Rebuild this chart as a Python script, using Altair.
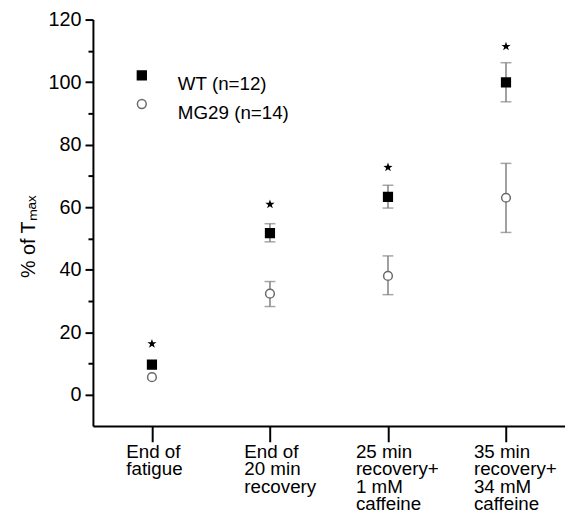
import altair as alt
import pandas as pd

categories = ["End of|fatigue", "End of|20 min|recovery",
              "25 min|recovery+|1 mM|caffeine", "35 min|recovery+|34 mM|caffeine"]
groups = ["WT (n=12)", "MG29 (n=14)"]
wt_mean = [9.6, 51.7, 63.3, 99.9]
wt_lo = [None, 48.9, 59.7, 93.7]
wt_hi = [None, 54.7, 67.0, 106.2]
mg_mean = [5.6, 32.3, 38.0, 63.0]
mg_lo = [None, 28.2, 32.0, 51.9]
mg_hi = [None, 36.2, 44.4, 74.0]
star_y = [16.3, 60.9, 72.7, 111.4]
y_ticks = [0, 10, 20, 30, 40, 50, 60, 70, 80, 90, 100, 110, 120]

STAR = ("M0,-1L0.235,-0.324L0.951,-0.309L0.380,0.124L0.588,0.809L0,0.4"
        "L-0.588,0.809L-0.380,0.124L-0.951,-0.309L-0.235,-0.324Z")

rows = []
for g, means, los, his in [(groups[0], wt_mean, wt_lo, wt_hi), (groups[1], mg_mean, mg_lo, mg_hi)]:
    for c, m, lo, hi in zip(categories, means, los, his):
        rows.append({"cat": c, "group": g, "mean": m, "lo": lo, "hi": hi})
df = pd.DataFrame(rows)
err = df.dropna(subset=["lo"])
caps = pd.concat([err.assign(cap=err["lo"]), err.assign(cap=err["hi"])])
stars = pd.DataFrame({"cat": categories, "star": star_y})

FONT = "Liberation Sans"
yscale = alt.Scale(domain=[-10, 120], nice=False, zero=False)
xenc = alt.X("cat:N", sort=categories, scale=alt.Scale(type="point", padding=0.5),
             axis=alt.Axis(title=None, labelExpr="split(datum.value, '|')", labelAlign="left",
                           labelOffset={"condition": {"test": "datum.index < 0.5", "value": -26.5},
                                        "value": -33},
                           labelBaseline="top", labelFontSize=19,
                           labelLineHeight=17.5, labelPadding=1, tickSize=16, tickWidth=2,
                           tickColor="black", domainColor="black", domainWidth=2, labelAngle=0,
                           labelColor="black", grid=False, labelFont=FONT, orient="bottom"))

leg = alt.Legend(orient="none", legendX=40, legendY=47, title=None, labelFontSize=19,
                 labelFont=FONT, labelColor="black", labelOffset=27, labelBaseline="top",
                 rowPadding=-2, symbolSize=80, padding=0, symbolStrokeWidth=1.5)

yaxis = alt.Axis(values=y_ticks, title="% of Tₘₐₓ", titleFontSize=20, titleFont=FONT,
                 titleFontWeight="normal", titleColor="black", titleY=219.5, titleX=-65,
                 titleAngle=270, titleBaseline="middle",
                 tickSize={"condition": {"test": "datum.value % 20 != 0", "value": 5}, "value": 8},
                 labelExpr="datum.value % 20 == 0 ? datum.label : ''",
                 tickWidth=2, tickColor="black", domainWidth=2,
                 domainColor="black", labelFontSize=20, labelFont=FONT,
                 labelColor="black", labelPadding=4, grid=False, orient="left")

rules = alt.Chart(err).mark_rule(color="#808080", strokeWidth=1.5).encode(
    x=xenc, y=alt.Y("lo:Q", scale=yscale, axis=yaxis), y2="hi:Q",
)
capm = alt.Chart(caps).mark_tick(orient="horizontal", size=11, thickness=1.5, color="#808080").encode(
    x=xenc, y=alt.Y("cap:Q", scale=yscale, axis=yaxis)
)
pts = alt.Chart(df).mark_point(opacity=1, strokeWidth=1.5, size=78).encode(
    x=xenc,
    y=alt.Y("mean:Q", scale=yscale, axis=yaxis),
    shape=alt.Shape("group:N", sort=groups,
                    scale=alt.Scale(domain=groups, range=["square", "circle"]), legend=leg),
    fill=alt.Fill("group:N", sort=groups,
                  scale=alt.Scale(domain=groups, range=["black", "white"]), legend=leg),
    stroke=alt.Stroke("group:N", sort=groups,
                      scale=alt.Scale(domain=groups, range=["black", "#6a6a6a"]), legend=leg),
)
starm = alt.Chart(stars).mark_point(shape=STAR, filled=True, color="black", size=95, opacity=1).encode(
    x=xenc,
    y=alt.Y("star:Q", scale=yscale, axis=yaxis),
)

chart = alt.layer(rules, capm, pts, starm).properties(
    width=478, height=411.5,
    autosize=alt.AutoSizeParams(type="none"),
    padding={"left": 86, "top": 8.5, "right": 0, "bottom": 91},
).configure_view(stroke=None)

chart.save("out.html", embed_options={"renderer": "svg", "actions": False})
